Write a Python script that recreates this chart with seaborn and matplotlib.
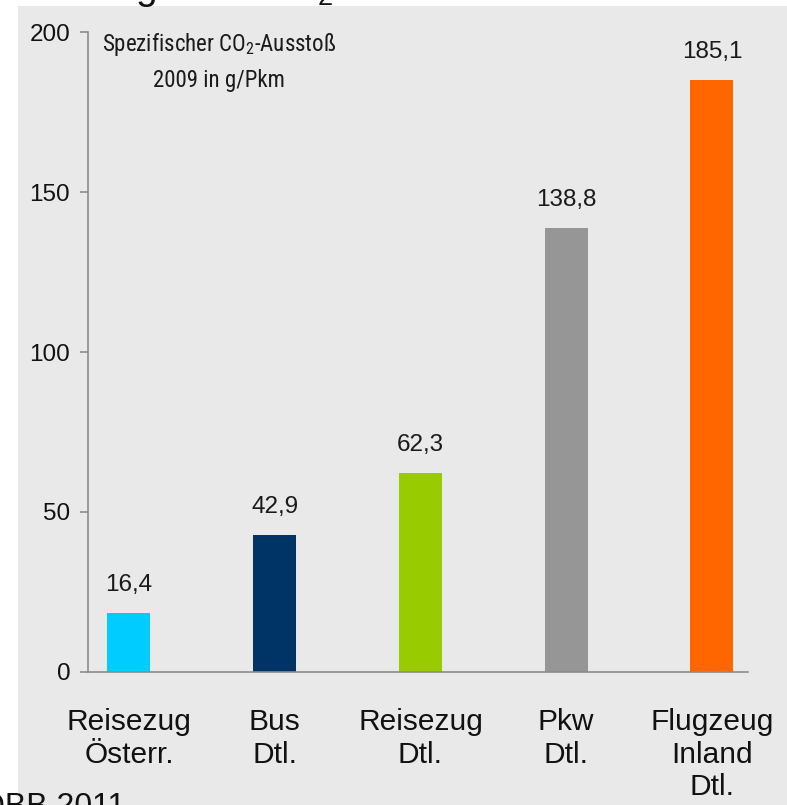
import matplotlib
matplotlib.use("Agg")
import matplotlib.pyplot as plt
from matplotlib import font_manager
from matplotlib.patches import Rectangle
import seaborn as sns
import pandas as pd

# ---- data ----
categories = ["Reisezug\nÖsterr.", "Bus\nDtl.", "Reisezug\nDtl.", "Pkw\nDtl.", "Flugzeug\nInland\nDtl."]
bar_heights = [18.5, 42.9, 62.3, 138.8, 185.1]
value_labels = ["16,4", "42,9", "62,3", "138,8", "185,1"]
bar_colors = ["#00CCFF", "#003366", "#99CC00", "#969696", "#FF6600"]
y_ticks = [0, 50, 100, 150, 200]
note_line1 = "Spezifischer CO$_\\mathregular{2}$-Ausstoß"
note_line2 = "2009 in g/Pkm"
title_text = "Vergleich: CO$_\\mathregular{2}$"
source_text = "ÖBB 2011"

sns.set_theme(style="white")
plt.rcParams["font.family"] = ["Liberation Sans", "DejaVu Sans"]

# narrow font for the note, if installed
note_family = ["Liberation Sans"]
note_size = 15
for cand in ["Liberation Sans Narrow", "Roboto Condensed", "Open Sans Condensed"]:
    try:
        font_manager.findfont(cand, fallback_to_default=False)
        note_family = [cand, "Liberation Sans"]
        note_size = 16.5
        break
    except Exception:
        pass

W, H = 787, 805
fig = plt.figure(figsize=(W / 100, H / 100), dpi=100)
fig.patch.set_facecolor("white")
panel = "#E9E9E9"
fig.patches.append(Rectangle((18 / W, 0), 1 - 18 / W, 1 - 6 / H,
                             transform=fig.transFigure, facecolor=panel,
                             edgecolor="none", zorder=-10))

ax = fig.add_axes([88 / W, 1 - 672 / H, (748 - 88) / W, (672 - 32) / H])
ax.set_facecolor("none")

df = pd.DataFrame({"cat": categories, "val": bar_heights})
sns.barplot(data=df, x="cat", y="val", hue="cat", palette=bar_colors,
            width=0.295, dodge=False, legend=False, saturation=1,
            linewidth=0, edgecolor="none", ax=ax)

for cont, lab in zip(ax.containers, value_labels):
    ax.bar_label(cont, labels=[lab], padding=12, fontsize=17.5, color="#1a1a1a")

ax.set_xlim(-0.281, 4.247)
ax.set_ylim(0, 200)
ax.set_yticks(y_ticks)
ax.set_yticklabels([str(t) for t in y_ticks])
ax.set_xticks(range(len(categories)))
ax.set_xticklabels(categories, fontsize=21.5, color="#111111", linespacing=1.2)
ax.set_xlabel("")
ax.set_ylabel("")

for s in ["top", "right"]:
    ax.spines[s].set_visible(False)
for s in ["left", "bottom"]:
    ax.spines[s].set_color("#8c8c8c")
    ax.spines[s].set_linewidth(1.2)

ax.tick_params(axis="x", length=0, pad=26)
ax.tick_params(axis="y", length=5.8, width=1.2, color="#8c8c8c", pad=7,
               labelsize=17.5, labelcolor="#111111", left=True, direction="out")

# note in upper left
ax.text(219 / W, 1 - 51 / H, note_line1, transform=fig.transFigure,
        ha="center", va="baseline", fontsize=note_size, family=note_family,
        color="#1a1a1a")
ax.text(219 / W, 1 - 87 / H, note_line2, transform=fig.transFigure,
        ha="center", va="baseline", fontsize=note_size, family=note_family,
        color="#1a1a1a")

# cut-off slide title and source (partly outside, as in the reference)
fig.text(75 / W, 1 + 1 / H, title_text, ha="left", va="baseline",
         fontsize=28, color="#111111")
fig.text(125 / W, 1 - 815 / H, source_text, ha="right", va="baseline",
         fontsize=23, color="#111111")

fig.savefig("out.png", dpi=100, facecolor="white")
